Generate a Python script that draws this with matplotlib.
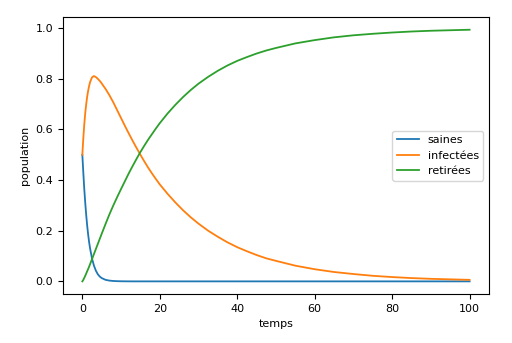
import numpy as np
import matplotlib
matplotlib.use('Agg')
from matplotlib import pyplot as plt

# values
temps = [0, 0.25, 0.5, 0.75, 1, 1.25, 1.5, 1.75, 2, 2.5, 3, 3.5, 4, 4.5, 5,
         6, 7, 8, 9, 10, 11, 12, 13, 14, 15, 16, 17, 18, 19, 20,
         22, 24, 26, 28, 30, 32.5, 35, 37.5, 40, 42.5, 45, 47.5, 50,
         55, 60, 65, 70, 75, 80, 85, 90, 95, 100]

saines = [0.5, 0.43, 0.365, 0.31, 0.262, 0.22, 0.185, 0.155, 0.13, 0.09, 0.062,
          0.042, 0.028, 0.019, 0.013, 0.006, 0.003, 0.0015, 0.0008, 0.0004,
          0.0002, 0.0001, 0, 0, 0, 0, 0, 0, 0, 0,
          0, 0, 0, 0, 0, 0, 0, 0, 0, 0, 0, 0, 0,
          0, 0, 0, 0, 0, 0, 0, 0, 0, 0]

infectees = [0.5, 0.565, 0.62, 0.665, 0.70, 0.73, 0.753, 0.772, 0.787, 0.806, 0.811,
             0.807, 0.80, 0.792, 0.782, 0.76, 0.735, 0.707, 0.676, 0.645,
             0.614, 0.584, 0.555, 0.527, 0.50, 0.474, 0.449, 0.426, 0.404, 0.383,
             0.346, 0.312, 0.281, 0.253, 0.228, 0.2, 0.176, 0.154, 0.135, 0.119, 0.104, 0.091, 0.081,
             0.062, 0.048, 0.037, 0.029, 0.022, 0.017, 0.013, 0.010, 0.008, 0.006]

retirees = [0, 0.006, 0.014, 0.022, 0.031, 0.04, 0.049, 0.058, 0.068, 0.088, 0.108,
            0.128, 0.148, 0.168, 0.188, 0.227, 0.265, 0.30, 0.333, 0.365,
            0.396, 0.427, 0.456, 0.484, 0.511, 0.536, 0.56, 0.582, 0.604, 0.625,
            0.663, 0.697, 0.728, 0.756, 0.781, 0.808, 0.832, 0.853, 0.871, 0.886, 0.90, 0.912, 0.922,
            0.94, 0.953, 0.964, 0.972, 0.978, 0.983, 0.987, 0.99, 0.992, 0.994]

plt.rcParams['font.size'] = 8

fig = plt.figure(figsize=(5.12, 3.43), dpi=100)
ax = fig.add_axes([0.123, 0.143, 0.832, 0.807])

ax.plot(temps, saines, lw=1.3, label='saines')
ax.plot(temps, infectees, lw=1.3, label='infectées')
ax.plot(temps, retirees, lw=1.3, label='retirées')

ax.set_xlabel('temps')
ax.set_ylabel('population')
ax.legend(loc='center right')

fig.savefig('out.png', dpi=100)
